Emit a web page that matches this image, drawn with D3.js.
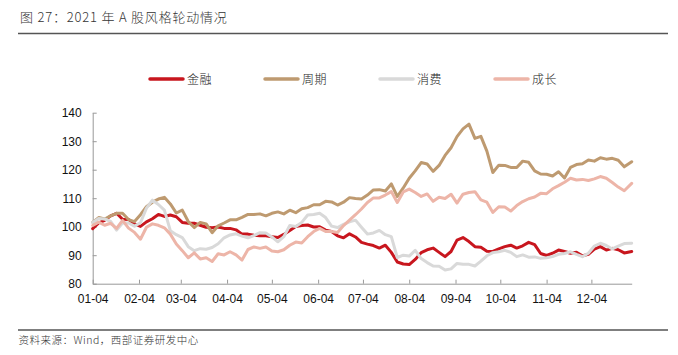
<!DOCTYPE html>
<html>
<head>
<meta charset="utf-8">
<script src="https://cdn.jsdelivr.net/npm/d3@7"></script>
<style>
  html, body { margin: 0; padding: 0; background: #fff; }
  svg { display: block; }
</style>
</head>
<body>
<div id="chart"></div>
<script>
const title = "图 27：2021 年 A 股风格轮动情况";
const source = "资料来源：Wind，西部证券研发中心";

const seriesNames = ["金融", "周期", "消费", "成长"];
const seriesColors = ["#C8161E", "#BE9A70", "#D9D9D9", "#EDB5A8"];

const xTickLabels = ["01-04","02-04","03-04","04-04","05-04","06-04","07-04","08-04","09-04","10-04","11-04","12-04"];
const yTicks = [80, 90, 100, 110, 120, 130, 140];

const dates = [
"2021-01-04","2021-01-08","2021-01-12","2021-01-16","2021-01-20","2021-01-24","2021-01-28","2021-02-01",
"2021-02-05","2021-02-09","2021-02-13","2021-02-17","2021-02-21","2021-02-25","2021-03-01","2021-03-05",
"2021-03-09","2021-03-13","2021-03-17","2021-03-21","2021-03-25","2021-03-29","2021-04-02","2021-04-06",
"2021-04-10","2021-04-14","2021-04-18","2021-04-22","2021-04-26","2021-04-30","2021-05-04","2021-05-08",
"2021-05-12","2021-05-16","2021-05-20","2021-05-24","2021-05-28","2021-06-01","2021-06-05","2021-06-09",
"2021-06-13","2021-06-17","2021-06-21","2021-06-25","2021-06-29","2021-07-03","2021-07-07","2021-07-11",
"2021-07-15","2021-07-19","2021-07-23","2021-07-27","2021-07-31","2021-08-04","2021-08-08","2021-08-12",
"2021-08-16","2021-08-20","2021-08-24","2021-08-28","2021-09-01","2021-09-05","2021-09-09","2021-09-13",
"2021-09-17","2021-09-21","2021-09-25","2021-09-29","2021-10-03","2021-10-07","2021-10-11","2021-10-15",
"2021-10-19","2021-10-23","2021-10-27","2021-10-31","2021-11-04","2021-11-08","2021-11-12","2021-11-16",
"2021-11-20","2021-11-24","2021-11-28","2021-12-02","2021-12-06","2021-12-10","2021-12-14","2021-12-18",
"2021-12-22","2021-12-26","2021-12-31"
];

const finance = [
99.3,101.3,102.2,103.8,104.7,102.6,102.5,101.0,100.1,101.7,102.8,104.3,103.6,104.1,103.5,101.5,
101.2,101.2,100.5,99.8,99.6,99.9,99.4,99.4,98.9,97.4,97.4,97.0,96.8,96.8,96.5,96.2,
97.3,98.7,100.1,100.4,100.6,99.9,100.0,98.8,98.3,96.8,96.1,97.5,96.4,94.5,93.9,93.4,
92.5,93.5,91.0,87.6,86.9,86.7,88.5,90.9,91.9,92.5,91.0,89.5,91.3,95.3,96.2,94.8,
93.0,92.8,91.4,91.3,92.2,93.0,93.5,92.5,93.3,94.5,93.7,90.6,89.9,90.7,91.8,91.3,
90.7,91.0,89.8,90.3,92.1,93.0,91.8,92.4,91.9,90.8,91.3
];

const cyclical = [
101.5,103.2,102.7,103.8,104.7,104.7,102.5,101.8,104.2,107.0,108.6,109.7,110.3,108.0,104.8,105.8,
101.8,99.7,101.5,101.0,97.9,100.3,101.3,102.4,102.4,103.3,104.3,104.3,104.5,103.8,104.7,105.2,
104.5,105.8,104.9,106.3,106.7,107.7,107.7,108.9,108.7,107.6,108.6,110.2,109.9,109.7,111.1,112.9,
113.0,112.5,115.0,110.6,113.6,117.0,119.6,122.5,122.0,119.4,121.5,125.0,127.7,131.6,134.3,136.0,
131.0,131.7,126.5,119.0,121.6,121.5,120.8,120.8,123.0,122.6,119.6,118.5,118.4,117.8,119.3,117.1,
120.8,121.8,122.1,123.4,123.0,124.2,123.7,124.0,123.3,121.0,122.8
];

const consumption = [
101.5,102.9,102.7,101.9,98.8,101.3,101.3,100.2,101.4,106.5,109.3,107.8,105.8,98.6,97.2,96.2,
93.0,91.6,92.3,92.1,92.7,94.0,96.1,97.1,97.5,96.7,96.1,96.9,97.9,97.8,96.4,94.7,
96.5,100.4,100.1,101.5,104.1,104.3,104.7,103.2,100.2,99.7,100.8,101.7,102.3,99.8,97.4,97.8,
98.7,97.2,96.5,89.2,90.0,89.7,91.7,88.8,87.4,86.2,86.1,84.8,85.2,87.1,86.8,86.8,
86.2,87.9,89.8,90.9,91.2,91.7,91.0,89.5,90.1,89.3,89.4,88.9,89.1,89.5,90.3,90.6,
91.2,90.3,89.5,90.7,93.2,94.2,93.4,92.2,93.2,94.1,94.2
];

const growth = [
100.4,101.6,100.5,101.2,99.4,102.2,99.5,98.0,95.6,99.8,101.0,100.5,99.6,97.4,93.9,91.6,
89.1,90.8,88.7,89.1,87.8,90.5,90.1,91.2,90.1,88.3,92.0,92.9,92.4,92.9,91.5,91.2,
91.9,93.5,94.6,94.3,96.5,98.3,99.4,98.3,98.3,98.0,100.4,102.3,104.2,106.2,108.5,110.1,
110.1,111.1,112.3,108.5,112.2,113.2,112.0,110.6,111.5,108.9,110.3,109.9,111.4,108.3,111.4,112.0,
112.3,109.4,108.6,105.0,107.0,106.9,105.5,107.4,108.8,109.8,110.4,111.7,111.6,113.3,114.4,115.6,
117.0,116.4,116.6,116.2,116.8,117.6,117.0,115.5,113.9,112.6,115.2
];

const seriesValues = [finance, cyclical, consumption, growth];

const W = 678, H = 355;
const margin = { left: 92.7, right: 678 - 631.7, top: 112.7, bottom: 355 - 283.7 };
const parse = d3.utcParse("%Y-%m-%d");
const parsedDates = dates.map(parse);

const svg = d3.select("#chart").append("svg")
  .attr("width", W).attr("height", H)
  .attr("viewBox", `0 0 ${W} ${H}`);

const cjk = "'Noto Sans CJK SC', 'Noto Sans', sans-serif";
const latin = "'Liberation Sans', Arial, sans-serif";

// Title and rules
svg.append("text")
  .attr("x", 20).attr("y", 22)
  .attr("font-family", cjk).attr("font-size", 13)
  .attr("font-weight", 300)
  .attr("letter-spacing", 0.8)
  .attr("fill", "#333")
  .text(title);
svg.append("line")
  .attr("x1", 18).attr("x2", 668).attr("y1", 33.5).attr("y2", 33.5)
  .attr("stroke", "#555").attr("stroke-width", 1.3);
svg.append("line")
  .attr("x1", 18).attr("x2", 668).attr("y1", 330).attr("y2", 330)
  .attr("stroke", "#555").attr("stroke-width", 1.3);
svg.append("text")
  .attr("x", 18.5).attr("y", 344)
  .attr("font-family", cjk).attr("font-size", 10.5)
  .attr("font-weight", 300)
  .attr("letter-spacing", 0.5)
  .attr("fill", "#333")
  .text(source);

// Scales
const x = d3.scaleUtc()
  .domain([parse("2021-01-04"), parse("2021-12-31")])
  .range([margin.left, W - margin.right]);
const y = d3.scaleLinear()
  .domain([80, 140])
  .range([H - margin.bottom, margin.top]);

// Axes
const xAxis = d3.axisBottom(x)
  .tickValues(xTickLabels.map(l => parse("2021-" + l)))
  .tickFormat((d, i) => xTickLabels[i])
  .tickSizeInner(-4).tickSizeOuter(0).tickPadding(11);
const gx = svg.append("g")
  .attr("transform", `translate(0,${y(80)})`)
  .call(xAxis);
gx.select(".domain").attr("stroke", "#999");
gx.selectAll(".tick line").attr("stroke", "#999");
gx.selectAll(".tick text").attr("font-family", latin).attr("font-size", 12).attr("fill", "#111");

const yAxis = d3.axisLeft(y)
  .tickValues(yTicks)
  .tickSizeInner(-4).tickSizeOuter(0).tickPadding(11);
const gy = svg.append("g")
  .attr("transform", `translate(${x(parse("2021-01-04"))},0)`)
  .call(yAxis);
gy.select(".domain").attr("stroke", "#999");
gy.selectAll(".tick line").attr("stroke", "#999");
gy.selectAll(".tick text").attr("font-family", latin).attr("font-size", 12).attr("fill", "#111");

// Lines
const line = d3.line()
  .x((d, i) => x(parsedDates[i]))
  .y(d => y(d));

svg.append("g").selectAll("path")
  .data(seriesValues)
  .join("path")
  .attr("d", d => line(d))
  .attr("fill", "none")
  .attr("stroke", (d, i) => seriesColors[i])
  .attr("stroke-width", 3)
  .attr("stroke-linejoin", "round")
  .attr("stroke-linecap", "round");

// Legend
const legend = svg.append("g").selectAll("g")
  .data(seriesNames)
  .join("g")
  .attr("transform", (d, i) => `translate(${150 + i * 115},79)`);
legend.append("line")
  .attr("x1", 0).attr("x2", 33).attr("y1", 0).attr("y2", 0)
  .attr("stroke", (d, i) => seriesColors[i])
  .attr("stroke-width", 3.5).attr("stroke-linecap", "round");
legend.append("text")
  .attr("x", 37).attr("y", 4.5)
  .attr("font-family", cjk).attr("font-size", 12)
  .attr("font-weight", 300)
  .attr("letter-spacing", 0.5)
  .attr("fill", "#222")
  .text(d => d);
</script>
</body>
</html>
